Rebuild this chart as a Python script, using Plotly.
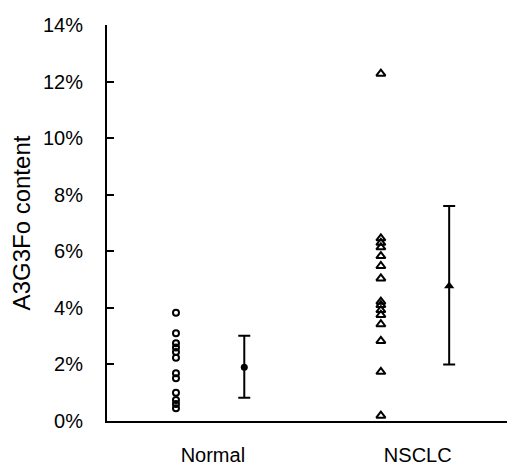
import plotly.graph_objects as go

# ---- data (percent) ----
categories = ["Normal", "NSCLC"]
normal_values = [3.83, 3.10, 2.75, 2.60, 2.44, 2.24, 1.69, 1.51, 1.00, 0.74, 0.60, 0.45]
nsclc_values = [12.28, 6.46, 6.30, 6.14, 5.83, 5.48, 5.04, 4.22, 4.10, 3.92, 3.75, 3.42, 2.83, 1.74, 0.19]
group_means = [1.90, 4.77]
group_upper = [3.01, 7.60]
group_lower = [0.82, 2.00]
y_tick_values = [0, 2, 4, 6, 8, 10, 12, 14]
y_tick_labels = ["0%", "2%", "4%", "6%", "8%", "10%", "12%", "14%"]
y_title = "A3G3Fo content"

series_values = [normal_values, nsclc_values]
open_symbols = ["circle-open", "triangle-up-open"]
filled_symbols = ["circle", "triangle-up"]
open_sizes = [6, 8]
filled_sizes = [7, 9]

FONT = "Liberation Sans, Arial, Helvetica, sans-serif"
GROUP_STEP = 3
LABEL_OFFSET = 0.54

fig = go.Figure()
for i, cat in enumerate(categories):
    base = i * GROUP_STEP
    vals = series_values[i]
    fig.add_trace(go.Scatter(
        x=[base] * len(vals), y=vals, mode="markers",
        marker=dict(symbol=open_symbols[i], size=open_sizes[i], color="black",
                    line=dict(width=2, color="black")),
        cliponaxis=False, showlegend=False, name=cat,
    ))
    fig.add_trace(go.Scatter(
        x=[base + 1], y=[group_means[i]], mode="markers",
        marker=dict(symbol=filled_symbols[i], size=filled_sizes[i], color="black"),
        error_y=dict(type="data", symmetric=False,
                     array=[group_upper[i] - group_means[i]],
                     arrayminus=[group_means[i] - group_lower[i]],
                     color="black", thickness=2, width=6),
        cliponaxis=False, showlegend=False, name=cat + " mean",
    ))

# page body has an 8px default margin, so the figure is sized/offset to fit the window
fig.update_layout(
    width=507, height=460,
    margin=dict(l=99, r=3, t=17, b=47),
    paper_bgcolor="white", plot_bgcolor="white",
    font=dict(family=FONT, size=20, color="black"),
)
fig.update_xaxes(
    range=[-1.01, 4.92], showgrid=False, zeroline=False,
    showline=True, linecolor="black", linewidth=2,
    tickvals=[i * GROUP_STEP + LABEL_OFFSET for i in range(len(categories))],
    ticktext=categories, ticks="", ticklabelstandoff=15,
    tickfont=dict(size=20), automargin=False,
)
fig.update_yaxes(
    range=[0, 14], showgrid=False, zeroline=False,
    showline=True, linecolor="black", linewidth=2,
    tickvals=y_tick_values, ticktext=y_tick_labels,
    ticks="inside", ticklen=7, tickwidth=1.5, tickcolor="black",
    ticklabelstandoff=18, tickfont=dict(size=20), automargin=False,
    title=dict(text=y_title, font=dict(size=24), standoff=8),
)

fig.write_html("out.html")
